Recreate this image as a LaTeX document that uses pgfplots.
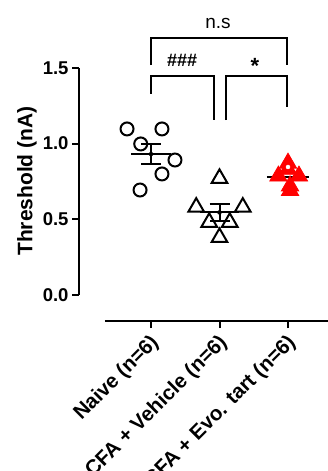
\documentclass[border=0pt]{standalone}
\usepackage{fontspec}
\setmainfont{Liberation Sans}
\usepackage{pgfplots}
\pgfplotsset{compat=1.18}
\begin{document}
\begin{tikzpicture}
\begin{axis}[
  x=68.5pt, y=151.5pt,
  xmin=-1.051, xmax=2.62, ymin=-0.1716, ymax=1.5,
  axis x line=bottom, axis y line=left,
  axis line style={draw=none},
  clip=false,
  tick align=outside,
  major tick length=7pt,
  tick style={line width=2pt, black},
  xtick={0,1,2},
  xticklabels={Naive (n=6), CFA + Vehicle (n=6), CFA + Evo. tart (n=6)},
  x tick label style={xshift=7pt, yshift=-9pt, rotate=45, anchor=east, font=\fontsize{20.5}{20.5}\selectfont\bfseries},
  ytick={0,0.5,1,1.5},
  yticklabel style={/pgf/number format/.cd, fixed, fixed zerofill, precision=1, assume math mode=true, /tikz/.cd, font=\fontsize{18.5}{18.5}\selectfont\bfseries},
  ylabel={Threshold (nA)},
  ylabel style={at={(axis description cs:-0.207,0.5526)}, anchor=center, font=\fontsize{21}{21}\selectfont\bfseries},
]
% axis lines (offset style)
\draw[line width=2pt] (axis cs:-1.051,0) -- (axis cs:-1.051,1.5);
\draw[line width=2pt] (axis cs:-0.672,-0.1716) -- (axis cs:2.7,-0.1716);

% means
\addplot[black, line width=2pt] coordinates {(-0.29,0.93) (0.29,0.93)};
\addplot[black, line width=2pt] coordinates {(0.71,0.545) (1.29,0.545)};
\addplot[black, line width=2pt] coordinates {(1.69,0.78) (2.31,0.78)};

% SEM error bars
\addplot[black, only marks, mark=none, error bars/.cd, y dir=both, y explicit,
  error bar style={line width=2pt, black},
  error mark options={rotate=90, mark size=10pt, line width=2pt, black}]
  coordinates {(0,0.93) +- (0,0.068) (1,0.545) +- (0,0.054)};

% individual points
\addplot[only marks, mark=o, mark size=6.5pt, line width=2pt, black]
  coordinates {(-0.35,1.096) (0.16,1.096) (-0.15,0.997) (0.35,0.891) (0.16,0.799) (-0.16,0.693)};
\addplot[only marks, mark=triangle, mark size=9pt, line width=2pt, black]
  coordinates {(1.0,0.77) (0.66,0.58) (1.34,0.58) (0.85,0.48) (1.15,0.48) (1.0,0.38)};
\addplot[only marks, mark=triangle*, mark size=10pt, line width=0.8pt, red, mark options={fill=red, draw=red}]
  coordinates {(2.0,0.83) (2.0,0.87) (1.86,0.785) (2.16,0.785) (2.03,0.72) (2.03,0.69)};
\addplot[white, only marks, mark=none, error bars/.cd, y dir=both, y explicit,
  error bar style={line width=0pt, white, draw=none},
  error mark options={rotate=90, mark size=6.5pt, line width=1.3pt, white}]
  coordinates {(2.0,0.845) +- (0,0.02)};

% significance brackets
\draw[line width=2pt] (axis cs:0,1.518) -- (axis cs:0,1.696) -- (axis cs:1.985,1.696) -- (axis cs:1.985,1.518);
\draw[line width=2pt] (axis cs:0,1.327) -- (axis cs:0,1.4455) -- (axis cs:0.92,1.4455) -- (axis cs:0.92,1.155);
\draw[line width=2pt] (axis cs:1.095,1.155) -- (axis cs:1.095,1.4455) -- (axis cs:1.985,1.4455) -- (axis cs:1.985,1.241);
\node[anchor=base, font=\fontsize{19}{19}\selectfont] at (axis cs:0.978,1.762) {n.s};
\node[anchor=base, font=\fontsize{18}{18}\selectfont\bfseries] at (axis cs:0.453,1.505) {\#\#\#};
\node[anchor=base, font=\fontsize{22}{22}\selectfont\bfseries] at (axis cs:1.518,1.46) {*};

\coordinate (bbtl) at (axis cs:-2.2044,1.9472);
\coordinate (bbbr) at (axis cs:2.5839,-1.1617);
\end{axis}
\pgfresetboundingbox
\path[use as bounding box] (bbtl) rectangle (bbbr);
\end{tikzpicture}
\end{document}
